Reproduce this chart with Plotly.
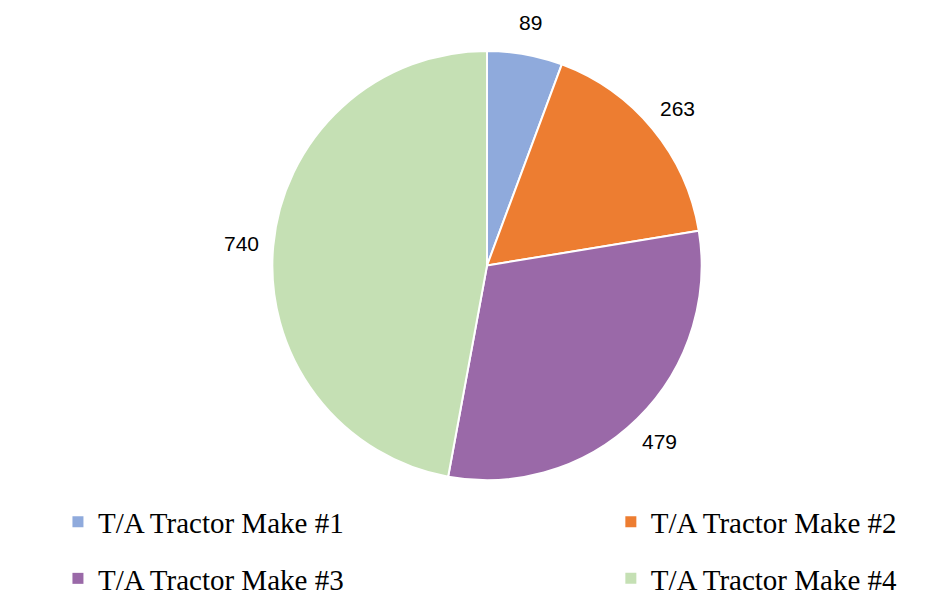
import math
import plotly.graph_objects as go

labels = ["T/A Tractor Make #1", "T/A Tractor Make #2", "T/A Tractor Make #3", "T/A Tractor Make #4"]
values = [89, 263, 479, 740]
colors = ["#8FAADC", "#ED7D31", "#9A69A8", "#C5E0B4"]

W, H = 950, 604
CX, CY, R = 487, 266, 215  # pie centre and radius in pixels

fig = go.Figure()
fig.add_trace(go.Pie(
    labels=labels,
    values=values,
    marker=dict(colors=colors, line=dict(color="white", width=2)),
    sort=False,
    direction="clockwise",
    rotation=0,
    textinfo="none",
    domain=dict(x=[(CX - R) / W, (CX + R) / W], y=[1 - (CY + R) / H, 1 - (CY - R) / H]),
    hoverinfo="label+value",
    showlegend=False,
))

# data labels outside each slice, at the slice's mid angle
total = sum(values)
cum = 0
annotations = []
for v in values:
    mid = (cum + v / 2) / total * 2 * math.pi
    cum += v
    d = R + 32
    x = (CX + d * math.sin(mid)) / W
    y = 1 - (CY - d * math.cos(mid)) / H
    annotations.append(dict(
        x=x, y=y, xref="paper", yref="paper", text=str(v), showarrow=False,
        xanchor="center", yanchor="middle",
        font=dict(family="Liberation Sans, Arial, sans-serif", size=21, color="#000000"),
    ))

# legend entries in a 2x2 grid
legend_pos = [(0.061, 0.136), (0.643, 0.136), (0.061, 0.041), (0.643, 0.041)]
legend_cfg = {}
for i, (lab, col) in enumerate(zip(labels, colors)):
    name = "legend" if i == 0 else f"legend{i + 1}"
    fig.add_trace(go.Scatter(
        x=[None], y=[None], mode="markers", name=lab,
        marker=dict(symbol="square", size=11, color=col),
        legend=name, showlegend=True, hoverinfo="skip",
    ))
    lx, ly = legend_pos[i]
    legend_cfg[name] = dict(
        x=lx, y=ly, xanchor="left", yanchor="middle",
        bgcolor="rgba(0,0,0,0)",
        font=dict(family="Liberation Serif, DejaVu Serif, serif", size=29, color="#000000"),
        itemclick=False, itemdoubleclick=False,
    )

fig.update_layout(
    width=W, height=H,
    margin=dict(l=0, r=0, t=0, b=0),
    paper_bgcolor="white",
    plot_bgcolor="white",
    showlegend=True,
    xaxis=dict(visible=False),
    yaxis=dict(visible=False),
    annotations=annotations,
    **legend_cfg,
)

fig.write_html("out.html")
